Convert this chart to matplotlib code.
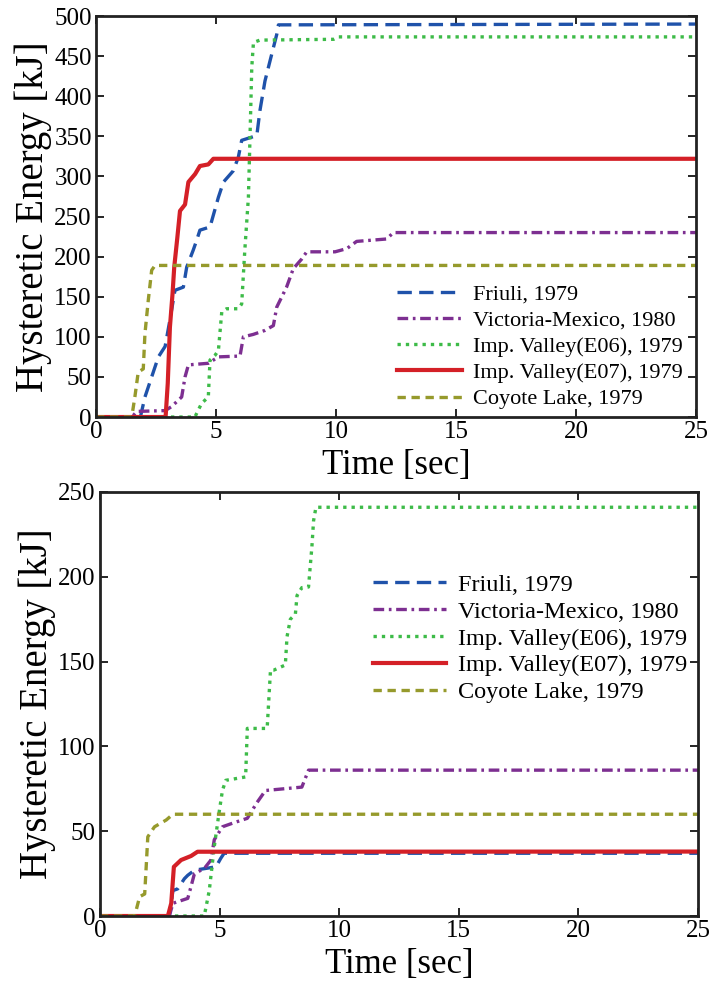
import matplotlib
matplotlib.use('Agg')
import matplotlib.pyplot as plt

plt.rcParams['font.family'] = ['Liberation Serif', 'DejaVu Serif']
plt.rcParams['mathtext.fontset'] = 'stix'

labels = ['Friuli, 1979', 'Victoria-Mexico, 1980', 'Imp. Valley(E06), 1979',
          'Imp. Valley(E07), 1979', 'Coyote Lake, 1979']

# top panel
friuli_t = [0, 1.85, 2.04, 2.32, 2.6, 2.88, 3.08, 3.29, 3.64, 3.78, 4.05, 4.19, 4.33, 4.75,
            5.1, 5.31, 5.72, 5.93, 6.07, 6.7, 6.83, 7.04, 7.25, 7.53, 7.6, 25]
friuli_e = [0, 0, 25, 50, 75, 88, 121, 158, 162, 187, 208, 220, 233, 237,
            274, 293, 307, 324, 345, 351, 382, 419, 444, 477, 489, 490]
victoria_t = [0, 1.5, 1.7, 2.88, 3.15, 3.57, 3.71, 3.85, 4.68, 5.1, 6.0, 6.14, 6.55, 7.04,
              7.39, 7.53, 7.94, 8.22, 8.57, 8.78, 9.96, 10.45, 10.86, 12.11, 12.39, 25]
victoria_e = [0, 0, 7, 8, 13, 25, 50, 65, 67, 75, 76, 100, 103, 108,
              114, 137, 162, 185, 197, 206, 206, 210, 219, 222, 230, 230]
e06_t = [0, 4.12, 4.4, 4.68, 4.75, 4.96, 5.1, 5.24, 5.44, 5.93, 6.07, 6.2, 6.35, 6.42,
         6.49, 6.56, 6.83, 9.9, 10.1, 25]
e06_e = [0, 0, 17, 25, 71, 77, 83, 131, 135, 135, 141, 208, 274, 353,
         436, 467, 470, 471, 474, 474]
e07_t = [0, 2.9, 2.99, 3.08, 3.19, 3.26, 3.39, 3.5, 3.71, 3.85, 4.13, 4.33, 4.68, 4.89, 25]
e07_e = [0, 0, 42, 112, 154, 187, 224, 257, 265, 293, 303, 313, 315, 322, 322]
coyote_t = [0, 1.49, 1.62, 1.76, 1.97, 2.04, 2.18, 2.32, 2.46, 25]
coyote_e = [0, 0, 25, 56, 60, 104, 146, 183, 189, 189]

# bottom panel
friuli2_t = [0, 2.9, 3.05, 3.25, 3.53, 3.67, 3.95, 4.85, 5.05, 5.19, 25]
friuli2_e = [0, 0, 15, 16, 22, 24, 27, 29, 34, 37, 37]
victoria2_t = [0, 2.9, 3.05, 3.67, 3.8, 3.95, 4.36, 4.64, 4.78, 5.12, 5.6, 6.16, 6.57,
               6.92, 8.44, 8.72, 25]
victoria2_e = [0, 0, 7.5, 10.4, 17, 25, 28, 33, 45, 52.6, 55, 57.6, 67,
               74, 76, 86, 86]
e06_2_t = [0, 4.36, 4.57, 4.78, 4.98, 5.12, 5.26, 6.09, 6.16, 6.99, 7.13, 7.27, 7.75,
           7.82, 7.96, 8.17, 8.24, 8.44, 8.72, 8.79, 8.86, 8.93, 9.03, 25]
e06_2_e = [0, 0, 15, 41, 61, 74, 80, 82, 110.6, 110.6, 145, 145, 148,
           164.6, 175, 178, 189, 193.6, 194, 206, 217.6, 233, 241, 241]
e07_2_t = [0, 2.84, 2.98, 3.09, 3.39, 3.81, 4.08, 25]
e07_2_e = [0, 0, 7.5, 29, 33, 35.4, 37.9, 38]
coyote2_t = [0, 1.45, 1.66, 1.87, 1.94, 2.0, 2.28, 2.77, 3.05, 25]
coyote2_e = [0, 0, 11.4, 13, 31, 46.7, 52.6, 56.6, 60, 60]

colors = ['#1f52aa', '#7d2f91', '#3dbb48', '#d42027', '#969a2c']
styles = [dict(lw=2.4, dashes=(4.3, 2.2)),
          dict(lw=2.4, dashes=(3.2, 1.4, 0.8, 1.4)),
          dict(lw=2.4, dashes=(1, 1.5)),
          dict(lw=3.0, linestyle='-'),
          dict(lw=2.4, dashes=(2.5, 1.7))]

fig = plt.figure(figsize=(7.11, 9.84), dpi=100)
ax1 = fig.add_axes([0.135, 0.5762, 0.844, 0.4075])
ax2 = fig.add_axes([0.1406, 0.0691, 0.841, 0.4309])

top = [(friuli_t, friuli_e), (victoria_t, victoria_e), (e06_t, e06_e),
       (e07_t, e07_e), (coyote_t, coyote_e)]
bottom = [(friuli2_t, friuli2_e), (victoria2_t, victoria2_e), (e06_2_t, e06_2_e),
          (e07_2_t, e07_2_e), (coyote2_t, coyote2_e)]

panels = [(ax1, top, 500, (0.487, 0.353), 16, 2.9, 0.25),
          (ax2, bottom, 250, (0.441, 0.830), 17.5, 3.0, 0.2)]
for ax, series, ymax, anchor, lfs, hlen, lsp in panels:
    for (t, e), c, st, lab in zip(series, colors, styles, labels):
        ax.plot(t, e, color=c, label=lab, **st)
    ax.set_xlim(0, 25)
    ax.set_ylim(0, ymax)
    ax.set_xticks(range(0, 26, 5))
    ax.set_yticks(range(0, ymax + 1, 50))
    ax.tick_params(direction='in', top=True, right=True, length=6, width=1.2,
                   labelsize=18, pad=3)
    for sp in ax.spines.values():
        sp.set_linewidth(2)
        sp.set_color('#222222')
    ax.set_xlabel('Time [sec]', fontsize=25, labelpad=4)
    ax.set_ylabel('Hysteretic Energy [kJ]', fontsize=28, labelpad=2)
    ax.legend(loc='upper left', bbox_to_anchor=anchor, frameon=False, fontsize=lfs,
              handlelength=hlen, handletextpad=0.5, labelspacing=lsp, borderaxespad=0)

fig.savefig('out.png', dpi=100)
